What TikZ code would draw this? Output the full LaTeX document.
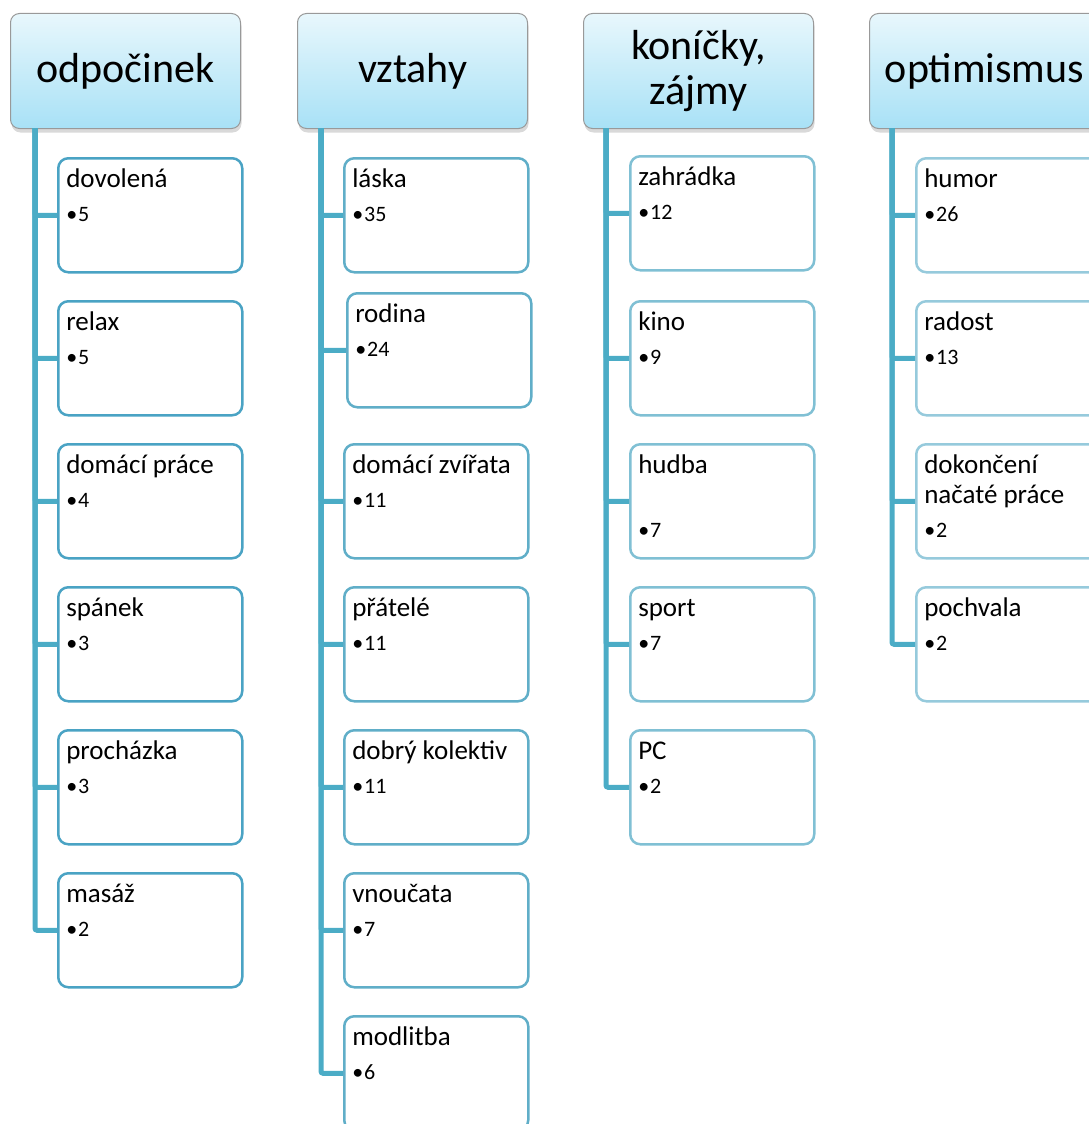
\documentclass[tikz,border=0pt]{standalone}
\usepackage{fontspec}
\setmainfont{Carlito}
\usetikzlibrary{shadows}
\definecolor{linkblue}{RGB}{75,172,198}
\definecolor{edgeA}{RGB}{74,163,196}
\definecolor{edgeB}{RGB}{96,174,200}
\definecolor{edgeC}{RGB}{128,192,212}
\definecolor{edgeD}{RGB}{150,202,220}
\definecolor{headtop}{RGB}{232,247,252}
\definecolor{headbot}{RGB}{168,225,246}
\newcommand{\leaf}[2]{\parbox[t][98pt][t]{168pt}{\fontsize{27}{30}\selectfont\strut #1\par{\fontsize{22}{34}\selectfont •\hspace{1pt}#2\par}}}
\tikzset{
  head/.style={draw=gray!80, line width=1pt, rounded corners=9pt, top color=headtop, bottom color=headbot,
    minimum width=230pt, minimum height=115pt, anchor=north west, align=center,
    font=\fontsize{42}{45}\selectfont, drop shadow={opacity=0.3, shadow xshift=1pt, shadow yshift=-4pt}},
  leafbox/.style={draw=#1, line width=2.5pt, rounded corners=10pt, fill=white, inner sep=8pt, anchor=north west},
  trunk/.style={draw=linkblue, line width=5pt, rounded corners=2pt}
}
\begin{document}
\begin{tikzpicture}[x=1pt,y=-1pt]
\useasboundingbox (0,0) rectangle (1089,1124);
% Headers
\node[head] (h1) at (10,13) {odpočinek};
\node[head] (h2) at (297,13) {vztahy};
\node[head] (h3) at (583,13) {koníčky,\\zájmy};
\node[head] (h4) at (869,13) {optimismus};
% odpočinek
\node[leafbox=edgeA] (a1) at (57,157) {\leaf{dovolená}{5}};
\node[leafbox=edgeA] (a2) at (57,300) {\leaf{relax}{5}};
\node[leafbox=edgeA] (a3) at (57,443) {\leaf{domácí práce}{4}};
\node[leafbox=edgeA] (a4) at (57,586) {\leaf{spánek}{3}};
\node[leafbox=edgeA] (a5) at (57,729) {\leaf{procházka}{3}};
\node[leafbox=edgeA] (a6) at (57,872) {\leaf{masáž}{2}};
\coordinate (t1) at (35,128);
\draw[trunk] (t1) |- (a1.west);
\draw[trunk] (t1) |- (a2.west);
\draw[trunk] (t1) |- (a3.west);
\draw[trunk] (t1) |- (a4.west);
\draw[trunk] (t1) |- (a5.west);
\draw[trunk] (t1) |- (a6.west);
% vztahy
\node[leafbox=edgeB] (b1) at (343,157) {\leaf{láska}{35}};
\node[leafbox=edgeB] (b2) at (346,292) {\leaf{rodina}{24}};
\node[leafbox=edgeB] (b3) at (343,443) {\leaf{domácí zvířata}{11}};
\node[leafbox=edgeB] (b4) at (343,586) {\leaf{přátelé}{11}};
\node[leafbox=edgeB] (b5) at (343,729) {\leaf{dobrý kolektiv}{11}};
\node[leafbox=edgeB] (b6) at (343,872) {\leaf{vnoučata}{7}};
\node[leafbox=edgeB] (b7) at (343,1015) {\leaf{modlitba}{6}};
\coordinate (t2) at (321,128);
\draw[trunk] (t2) |- (b1.west);
\draw[trunk] (t2) |- (b2.west);
\draw[trunk] (t2) |- (b3.west);
\draw[trunk] (t2) |- (b4.west);
\draw[trunk] (t2) |- (b5.west);
\draw[trunk] (t2) |- (b6.west);
\draw[trunk] (t2) |- (b7.west);
% koníčky, zájmy
\node[leafbox=edgeC] (c1) at (629,155) {\leaf{zahrádka}{12}};
\node[leafbox=edgeC] (c2) at (629,300) {\leaf{kino}{9}};
\node[leafbox=edgeC] (c3) at (629,443) {\leaf{hudba\par\mbox{}}{7}};
\node[leafbox=edgeC] (c4) at (629,586) {\leaf{sport}{7}};
\node[leafbox=edgeC] (c5) at (629,729) {\leaf{PC}{2}};
\coordinate (t3) at (606,128);
\draw[trunk] (t3) |- (c1.west);
\draw[trunk] (t3) |- (c2.west);
\draw[trunk] (t3) |- (c3.west);
\draw[trunk] (t3) |- (c4.west);
\draw[trunk] (t3) |- (c5.west);
% optimismus
\node[leafbox=edgeD] (d1) at (915,157) {\leaf{humor}{26}};
\node[leafbox=edgeD] (d2) at (915,300) {\leaf{radost}{13}};
\node[leafbox=edgeD] (d3) at (915,443) {\leaf{dokončení\\načaté práce}{2}};
\node[leafbox=edgeD] (d4) at (915,586) {\leaf{pochvala}{2}};
\coordinate (t4) at (892,128);
\draw[trunk] (t4) |- (d1.west);
\draw[trunk] (t4) |- (d2.west);
\draw[trunk] (t4) |- (d3.west);
\draw[trunk] (t4) |- (d4.west);
\end{tikzpicture}
\end{document}
